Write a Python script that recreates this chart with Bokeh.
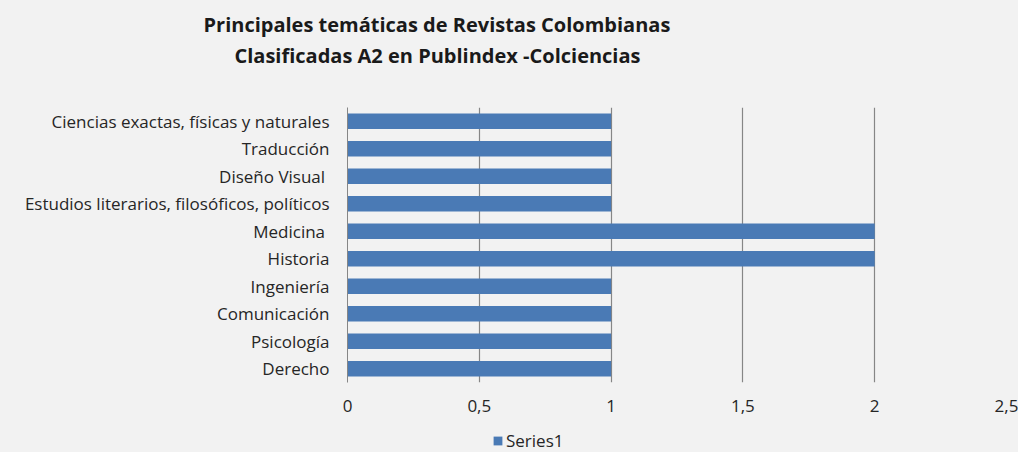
from bokeh.plotting import figure
from bokeh.layouts import column
from bokeh.models import (FactorRange, Range1d, FixedTicker, Legend, LegendItem,
                          ColumnDataSource, Title)
from bokeh.embed import file_html
from bokeh.resources import INLINE

# Data (top-to-bottom as in the chart)
categories = [
    "Ciencias exactas, físicas y naturales",
    "Traducción",
    "Diseño Visual ",
    "Estudios literarios, filosóficos, políticos",
    "Medicina ",
    "Historia",
    "Ingeniería",
    "Comunicación",
    "Psicología",
    "Derecho",
]
values = [1, 1, 1, 1, 2, 2, 1, 1, 1, 1]
series_name = "Series1"
x_ticks = [0, 0.5, 1, 1.5, 2, 2.5]
x_tick_labels = ["0", "0,5", "1", "1,5", "2", "2,5"]
title_lines = [
    "Principales temáticas de Revistas Colombianas",
    "Clasificadas  A2 en Publindex -Colciencias",
]

BG = "#f2f2f2"
BAR = "#4a7ab5"
GRID = "#868686"
FONT = "Open Sans"
TXT = "#262626"

W = 1018
BL, BR = 347, 12
TITLE_H = 80
LEG_H = 24
MAIN_H = 452 - TITLE_H - LEG_H
FRAME_TOP, FRAME_H = 107, 275


def strip(h, top, bottom):
    f = figure(width=W, height=h, x_range=Range1d(0, 1), y_range=Range1d(0, 1),
               x_axis_location=None, y_axis_location=None,
               output_backend="svg", toolbar_location=None,
               min_border_left=BL, min_border_right=BR,
               min_border_top=top, min_border_bottom=bottom)
    f.background_fill_color = BG
    f.border_fill_color = BG
    f.outline_line_color = None
    f.grid.visible = False
    return f


# ---- title strip: line 1 above a tiny frame, line 2 below it ----
tf = strip(TITLE_H, 38, 40)
title_kw = dict(align="left", vertical_align="middle", standoff=0,
                text_font=FONT, text_font_style="bold", text_font_size="20px",
                text_color="#1a1a1a")
tf.add_layout(Title(text=title_lines[0], offset=203 - BL, **title_kw), "above")
tf.add_layout(Title(text=title_lines[1], offset=234 - BL, **title_kw), "below")

# ---- main chart ----
factors = list(reversed(categories))
p = figure(
    width=W, height=MAIN_H,
    y_range=FactorRange(factors=factors, range_padding=0),
    x_range=Range1d(0, 2.5),
    output_backend="svg", toolbar_location=None,
    min_border_left=BL, min_border_right=BR,
    min_border_top=FRAME_TOP - TITLE_H,
    min_border_bottom=MAIN_H - (FRAME_TOP - TITLE_H) - FRAME_H,
)
p.background_fill_color = BG
p.border_fill_color = BG
p.outline_line_color = None

p.hbar(y=categories, right=values, left=0, height=0.56,
       fill_color=BAR, line_color=None)

p.xaxis.ticker = FixedTicker(ticks=x_ticks)
p.xaxis.major_label_overrides = {t: l for t, l in zip(x_ticks, x_tick_labels)}
p.xaxis.axis_line_color = None
p.xaxis.major_tick_line_color = None
p.xaxis.minor_tick_line_color = None
p.xaxis.major_tick_out = 0
p.xaxis.major_label_standoff = 17
p.xaxis.major_label_text_font = FONT
p.xaxis.major_label_text_font_size = "17px"
p.xaxis.major_label_text_color = TXT

p.yaxis.axis_line_color = GRID
p.yaxis.axis_line_width = 1
p.yaxis.major_tick_line_color = None
p.yaxis.minor_tick_line_color = None
p.yaxis.major_tick_out = 0
p.yaxis.major_label_standoff = 18
p.yaxis.major_label_text_font = FONT
p.yaxis.major_label_text_font_size = "17px"
p.yaxis.major_label_text_color = TXT

p.xgrid.grid_line_color = GRID
p.xgrid.grid_line_width = 1.2
p.ygrid.grid_line_color = None

# ---- legend strip (swatch renderer is hidden; only its legend entry shows) ----
lf = strip(LEG_H, 0, 0)
swatch = lf.hbar(source=ColumnDataSource(dict(y=list(range(len(values))), right=values)),
                 y="y", right="right", height=0.56,
                 fill_color=BAR, line_color=None, visible=False)
leg = Legend(items=[LegendItem(label=series_name, renderers=[swatch])],
             location=(492 - BL, 0))
leg.background_fill_alpha = 0
leg.border_line_color = None
leg.inactive_fill_alpha = 0
leg.padding = 0
leg.margin = 0
leg.glyph_width = 11
leg.glyph_height = 11
leg.label_standoff = 3
leg.label_text_font = FONT
leg.label_text_font_size = "17px"
leg.label_text_color = TXT
leg.label_height = 22
lf.add_layout(leg, "center")

layout = column(tf, p, lf, spacing=0, styles={"background-color": BG})
open("out.html", "w").write(file_html(layout, INLINE))
